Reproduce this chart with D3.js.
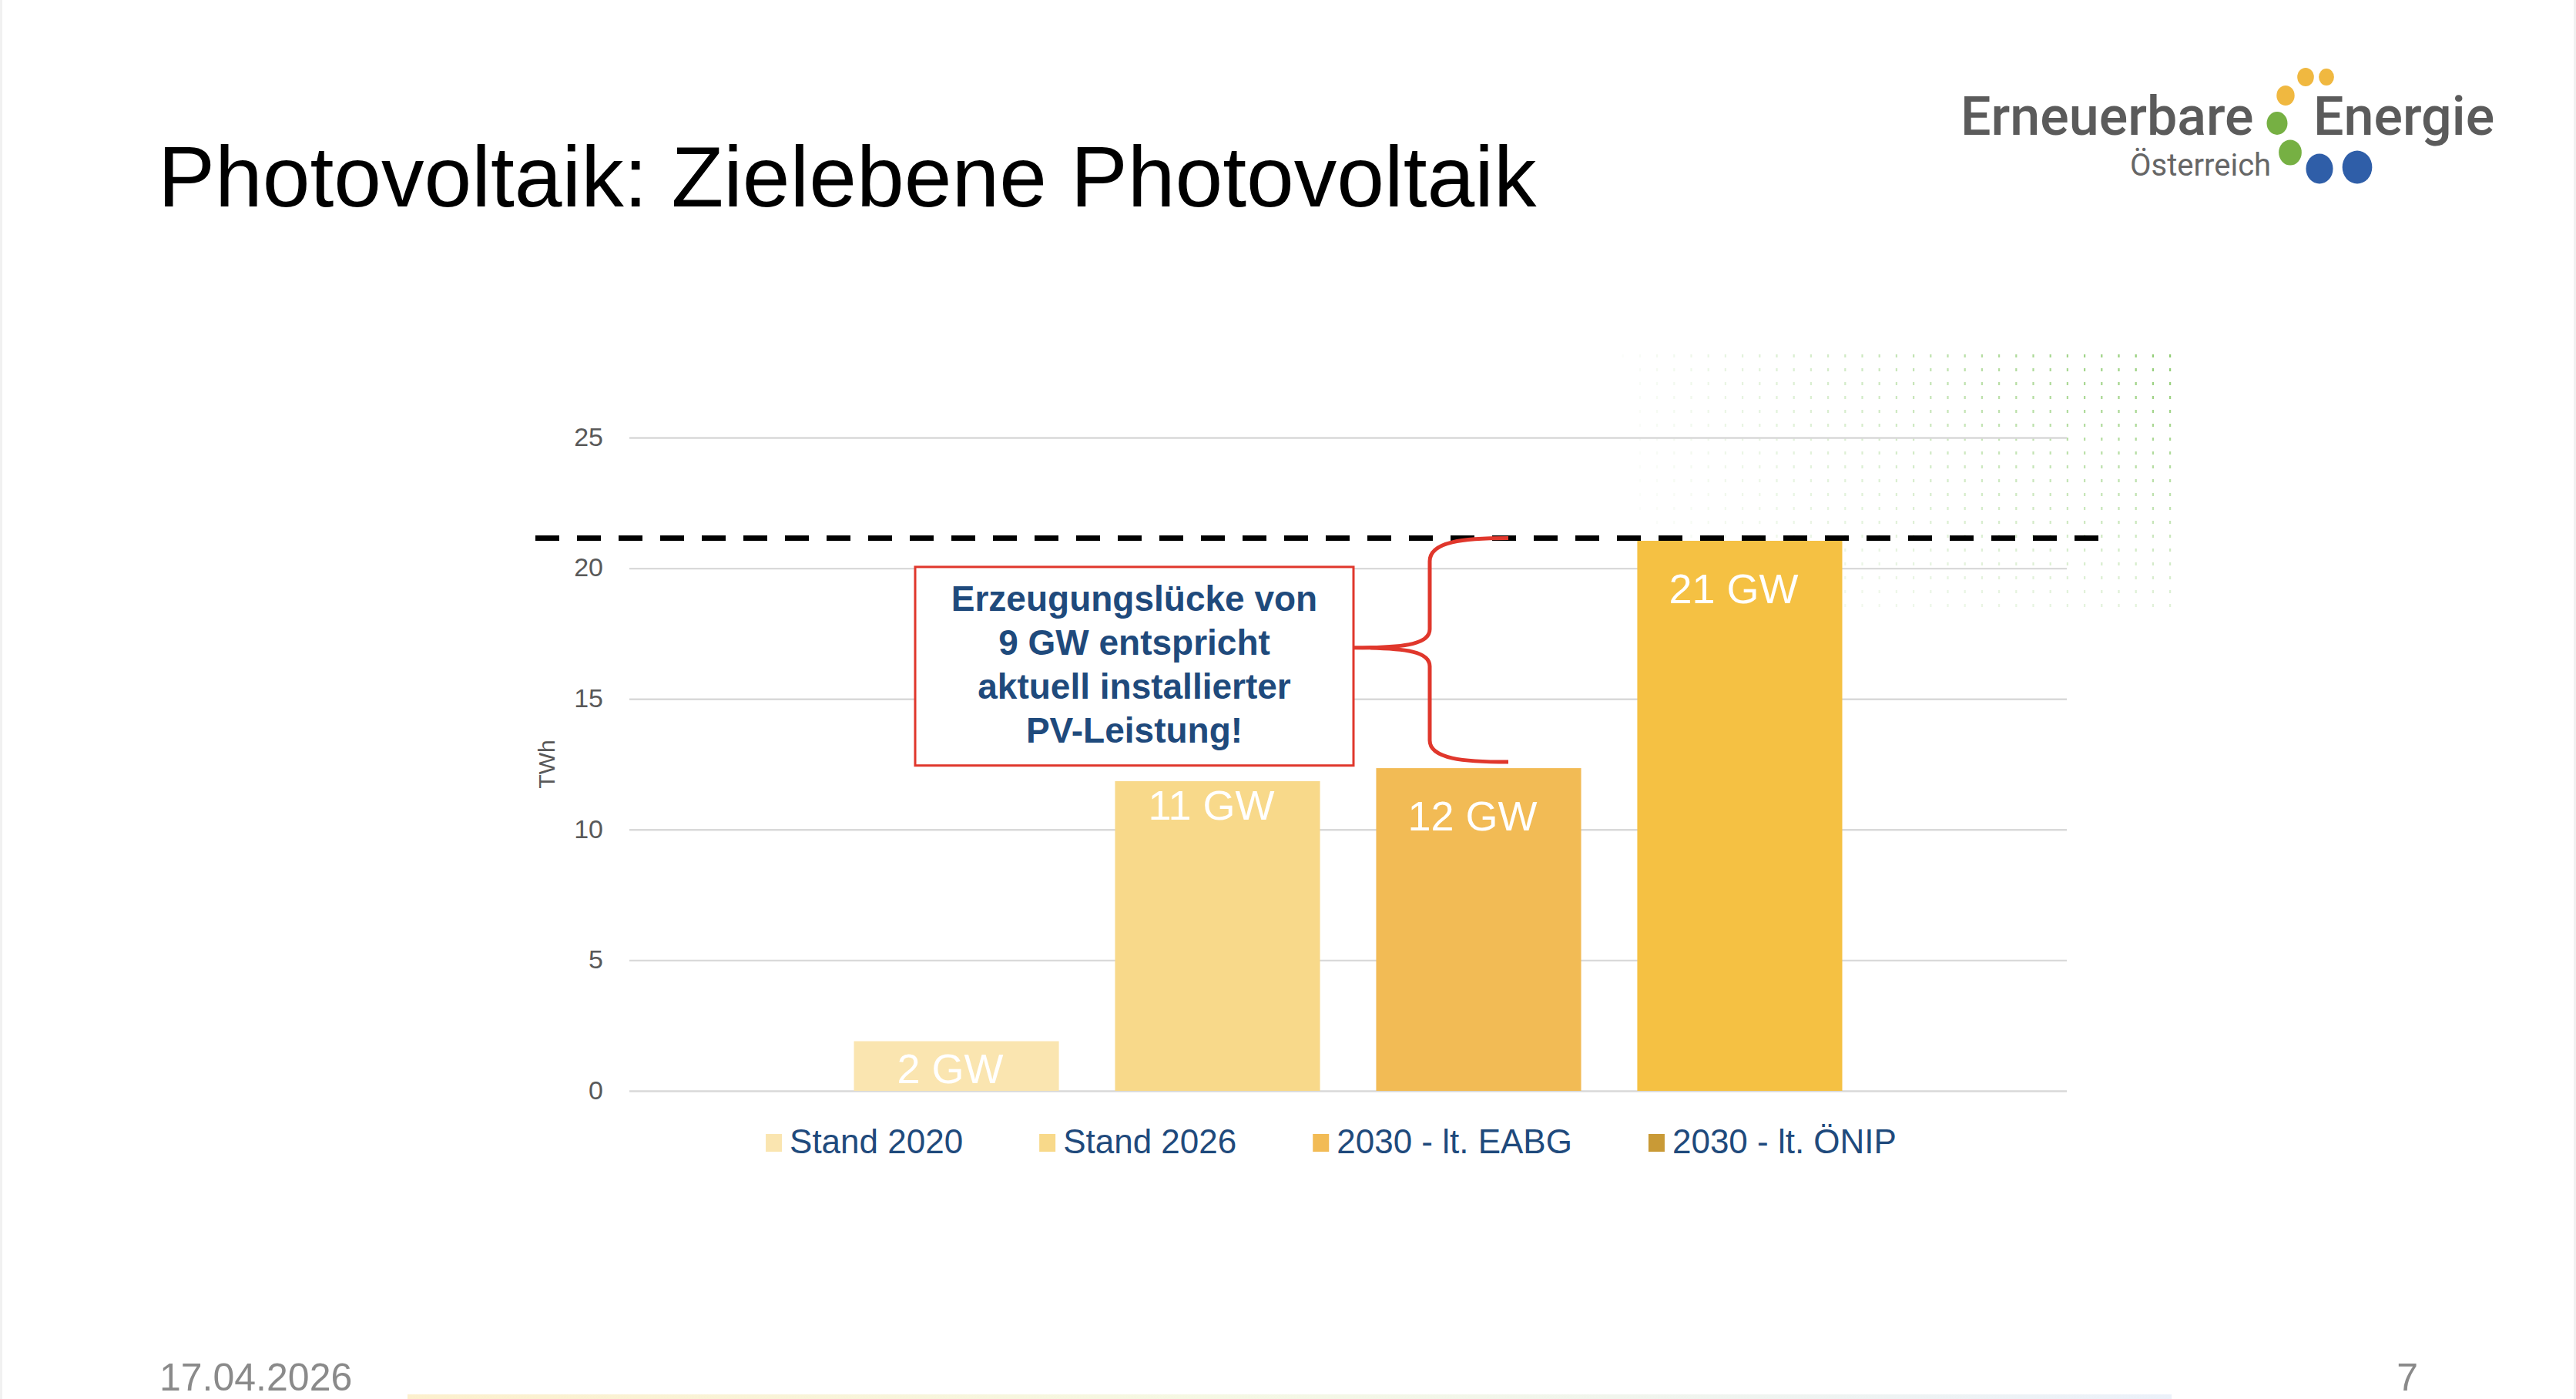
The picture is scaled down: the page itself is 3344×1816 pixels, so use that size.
<!DOCTYPE html>
<html><head><meta charset="utf-8">
<script src="https://cdn.jsdelivr.net/npm/d3@7"></script>
<style>html,body{margin:0;padding:0;background:#fff;overflow:hidden}</style>
</head><body>
<svg id="c" width="3344" height="1816"></svg>
<script>
// ---- data ----
const categories = ["Stand 2020", "Stand 2026", "2030 - lt. EABG", "2030 - lt. ÖNIP"];
const values = [1.9, 11.85, 12.35, 21.05];          // TWh
const barLabels = ["2 GW", "11 GW", "12 GW", "21 GW"];
const yTicks = [0, 5, 10, 15, 20, 25];
const targetValue = 21.15;
const annotationLines = ["Erzeugungslücke von", "9 GW entspricht", "aktuell installierter", "PV-Leistung!"];
const titleText = "Photovoltaik: Zielebene Photovoltaik";
const footerDate = "17.04.2026";
const pageNumber = "7";

// ---- styles ----
const barColors = ["#fae5b0", "#f8d98a", "#f2bb55", "#f5c143"];
const legendColors = ["#fae5b0", "#f8d98a", "#f2bb55", "#c99a36"];
const labelOffsets = [54, 50, 81, 81];
const navy = "#1f4a7c";
const red = "#e0372c";

const svg = d3.select("#c");
const W = 3344, H = 1816;
svg.append("rect").attr("width", W).attr("height", H).attr("fill", "#fff");
svg.append("rect").attr("x", 0).attr("y", 0).attr("width", 3).attr("height", H).attr("fill", "#f1f1f1");
svg.append("rect").attr("x", W - 3).attr("y", 0).attr("width", 3).attr("height", H).attr("fill", "#f1f1f1");

// ---- scales ----
const plot = {left: 817, right: 2683, top: 568, bottom: 1416};
const x = d3.scaleBand().domain(categories).range([plot.left, plot.right]).paddingInner(0.215).paddingOuter(0.86);
const y = d3.scaleLinear().domain([0, 25]).range([plot.bottom, plot.top]);

// ---- decorative dot pattern ----
const dots = svg.append("g");
for (let cx = 2817; cx > 2080; cx -= 22.2) {
  for (let cy = 462; cy < 790; cy += 18) {
    const ox = Math.max(0, Math.min(1, (cx - 2080) / 737));
    const oy = Math.max(0, Math.min(1, (800 - cy) / 338));
    const op = 0.85 * ox * (0.25 + 0.75 * oy);
    if (op < 0.03) continue;
    dots.append("rect").attr("x", cx - 1).attr("y", cy - 2).attr("width", 2.2).attr("height", 4)
      .attr("fill", "#7cc35a").attr("opacity", op);
  }
}

// ---- y axis with gridlines ----
const yAxis = svg.append("g").attr("transform", `translate(${plot.left},0)`)
  .call(d3.axisLeft(y).tickValues(yTicks).tickSize(-(plot.right - plot.left)).tickPadding(34));
yAxis.select(".domain").remove();
yAxis.selectAll(".tick line").attr("stroke", "#d9d9d9").attr("stroke-width", 2.4);
yAxis.selectAll(".tick text").attr("fill", "#595959").attr("font-family", "Liberation Sans, Arial, sans-serif")
  .attr("font-size", 34).attr("dy", "0.3em");

svg.append("text").attr("transform", `translate(720,${(plot.top + plot.bottom) / 2}) rotate(-90)`)
  .attr("text-anchor", "middle").attr("font-family", "Liberation Sans, Arial, sans-serif")
  .attr("font-size", 30).attr("fill", "#595959").text("TWh");

// ---- bars ----
svg.append("g").selectAll("rect").data(categories).join("rect")
  .attr("x", d => x(d)).attr("width", x.bandwidth())
  .attr("y", (d, i) => y(values[i])).attr("height", (d, i) => y(0) - y(values[i]))
  .attr("fill", (d, i) => barColors[i]);

svg.append("g").selectAll("text").data(categories).join("text")
  .attr("x", d => x(d) + x.bandwidth() / 2 - 8)
  .attr("y", (d, i) => y(values[i]) + labelOffsets[i])
  .attr("text-anchor", "middle").attr("font-family", "Liberation Sans, Arial, sans-serif")
  .attr("font-size", 54).attr("fill", "#fff").text((d, i) => barLabels[i]);

// ---- target dashed line ----
svg.append("line").attr("x1", 695).attr("x2", 2724)
  .attr("y1", y(targetValue)).attr("y2", y(targetValue))
  .attr("stroke", "#000").attr("stroke-width", 7).attr("stroke-dasharray", "31,23");

// ---- annotation box ----
const box = {x0: 1188, x1: 1757, y0: y(20.05), y1: y(12.45)};
svg.append("rect").attr("x", box.x0).attr("y", box.y0).attr("width", box.x1 - box.x0).attr("height", box.y1 - box.y0)
  .attr("fill", "#fff").attr("stroke", red).attr("stroke-width", 3);
svg.append("g").selectAll("text").data(annotationLines).join("text")
  .attr("x", (box.x0 + box.x1) / 2).attr("y", (d, i) => 793 + i * 57)
  .attr("text-anchor", "middle").attr("font-family", "Liberation Sans, Arial, sans-serif")
  .attr("font-weight", "bold").attr("font-size", 46).attr("fill", navy).text(d => d);

// ---- brace ----
const bTop = y(targetValue), bBot = y(values[2]) - 8, bMid = (bTop + bBot) / 2 - 3;
const spine = 1856, tip = box.x1, endX = 1958;
const bp = d3.path();
bp.moveTo(endX, bTop);
bp.bezierCurveTo(1900, bTop, spine, bTop + 4, spine, bTop + 30);
bp.lineTo(spine, bMid - 24);
bp.bezierCurveTo(spine, bMid - 6, 1830, bMid, tip, bMid);
bp.bezierCurveTo(1830, bMid, spine, bMid + 6, spine, bMid + 24);
bp.lineTo(spine, bBot - 28);
bp.bezierCurveTo(spine, bBot - 4, 1900, bBot, endX, bBot);
svg.append("path").attr("d", bp.toString()).attr("fill", "none").attr("stroke", red).attr("stroke-width", 5);

// ---- legend ----
const legend = svg.append("g");
const items = legend.selectAll("g").data(categories).join("g");
items.append("rect").attr("width", 21).attr("height", 23).attr("y", -25).attr("fill", (d, i) => legendColors[i]);
items.append("text").attr("x", 31).attr("font-family", "Liberation Sans, Arial, sans-serif")
  .attr("font-size", 44).attr("fill", navy).text(d => d);
let lx = 0;
const offs = [];
items.each(function () {
  const w = d3.select(this).select("text").node().getComputedTextLength();
  offs.push(lx);
  lx += 31 + w + 99;
});
const totalW = lx - 99;
const startX = 1728 - totalW / 2;
items.attr("transform", (d, i) => `translate(${startX + offs[i]},1497)`);

// ---- title ----
svg.append("text").attr("x", 205).attr("y", 268).attr("font-family", "Liberation Sans, Arial, sans-serif")
  .attr("font-size", 111).attr("fill", "#000").text(titleText);

// ---- logo ----
const logo = svg.append("g");
logo.append("text").attr("x", 2545).attr("y", 175).attr("font-family", "Roboto, sans-serif").attr("font-weight", 500)
  .attr("font-size", 70).attr("fill", "#5b5b5b").text("Erneuerbare");
logo.append("text").attr("x", 3003).attr("y", 175).attr("font-family", "Roboto, sans-serif").attr("font-weight", 500)
  .attr("font-size", 70).attr("fill", "#5b5b5b").text("Energie");
logo.append("text").attr("x", 2765).attr("y", 228).attr("font-family", "Roboto, sans-serif")
  .attr("font-size", 40).attr("fill", "#666").text("Österreich");
const logoDots = [
  [2967, 124, 13, "#f0b840"], [2993, 100, 12, "#f0b840"], [3020, 100, 11, "#f0b840"],
  [2956, 160, 15, "#76b043"], [2973, 198, 16.5, "#76b043"],
  [3011, 219, 19.5, "#2f5ea8"], [3060, 217, 21.5, "#2f5ea8"]
];
logo.selectAll("ellipse").data(logoDots).join("ellipse")
  .attr("cx", d => d[0]).attr("cy", d => d[1]).attr("rx", d => d[2] * 0.9).attr("ry", d => d[2]).attr("fill", d => d[3]);

// ---- footer ----
svg.append("text").attr("x", 207).attr("y", 1805).attr("font-family", "Liberation Sans, Arial, sans-serif")
  .attr("font-size", 50).attr("fill", "#8a8a8a").text(footerDate);
svg.append("text").attr("x", 3139).attr("y", 1805).attr("text-anchor", "end").attr("font-family", "Liberation Sans, Arial, sans-serif")
  .attr("font-size", 50).attr("fill", "#8a8a8a").text(pageNumber);
const grad = svg.append("defs").append("linearGradient").attr("id", "fg");
grad.append("stop").attr("offset", "0%").attr("stop-color", "#fbe9b8");
grad.append("stop").attr("offset", "45%").attr("stop-color", "#f1f5d8");
grad.append("stop").attr("offset", "100%").attr("stop-color", "#e3ebf7");
svg.append("rect").attr("x", 529).attr("y", 1810).attr("width", 2290).attr("height", 6).attr("fill", "url(#fg)").attr("opacity", 0.7);
</script>
</body></html>
